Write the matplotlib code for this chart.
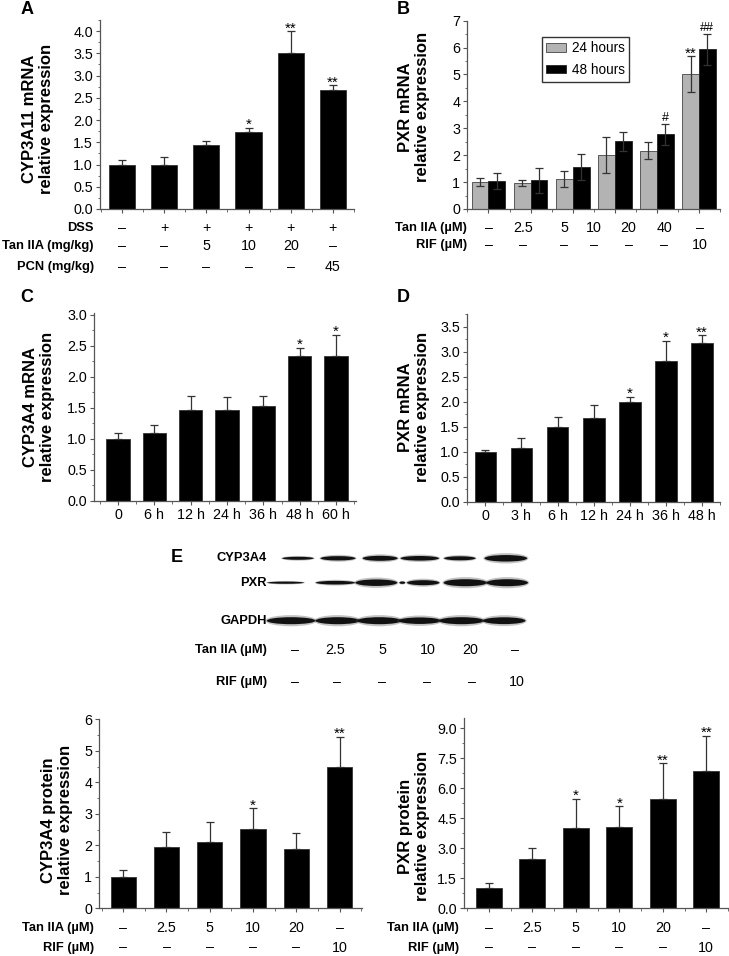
import numpy as np
import matplotlib
matplotlib.use('Agg')
import matplotlib.pyplot as plt
from matplotlib.patches import Ellipse
from matplotlib.ticker import MultipleLocator, AutoMinorLocator, FormatStrFormatter
import matplotlib.transforms as mtrans

plt.rcParams['font.family'] = ['Liberation Sans', 'DejaVu Sans']

W, H = 729, 956

# ---- data ----
# A: CYP3A11 mRNA in mice
a_vals = [1.0, 1.0, 1.43, 1.73, 3.5, 2.68]
a_err = [0.11, 0.17, 0.11, 0.10, 0.50, 0.11]
a_sig = ['', '', '', '*', '**', '**']
a_rows = ['DSS', 'Tan IIA (mg/kg)', 'PCN (mg/kg)']
a_cols = [['–', '+', '+', '+', '+', '+'],
          ['–', '–', '5', '10', '20', '–'],
          ['–', '–', '–', '–', '–', '45']]

# B: PXR mRNA, 24 h vs 48 h
b_24 = [1.01, 0.96, 1.12, 2.01, 2.17, 5.01]
b_24_err = [0.14, 0.11, 0.29, 0.67, 0.31, 0.67]
b_48 = [1.04, 1.07, 1.56, 2.52, 2.77, 5.93]
b_48_err = [0.28, 0.47, 0.50, 0.36, 0.40, 0.57]
b_sig24 = ['', '', '', '', '', '**']
b_sig48 = ['', '', '', '', '#', '##']
b_rows = ['Tan IIA (µM)', 'RIF (µM)']
b_cols = [['–', '2.5', '5', '10', '20', '40', '–'],
          ['–', '–', '–', '–', '–', '–', '10']]
b_colpos = [0, 0.83, 1.8, 2.51, 3.33, 4.17, 5.02]

# C: CYP3A4 mRNA time course
c_labels = ['0', '6 h', '12 h', '24 h', '36 h', '48 h', '60 h']
c_vals = [1.0, 1.09, 1.47, 1.47, 1.53, 2.33, 2.34]
c_err = [0.09, 0.14, 0.22, 0.20, 0.16, 0.14, 0.34]
c_sig = ['', '', '', '', '', '*', '*']

# D: PXR mRNA time course
d_labels = ['0', '3 h', '6 h', '12 h', '24 h', '36 h', '48 h']
d_vals = [1.0, 1.07, 1.49, 1.68, 2.0, 2.81, 3.18]
d_err = [0.04, 0.20, 0.20, 0.25, 0.10, 0.41, 0.15]
d_sig = ['', '', '', '', '*', '*', '**']

# E: western blot bands (lane position, width in lanes, thickness px)
cyp_pos = [0.14, 1.08, 2.07, 3.0, 3.94, 5.02]
cyp_w = [0.74, 0.82, 0.82, 0.9, 0.74, 1.0]
cyp_h = [3.0, 4.3, 5.0, 4.6, 4.0, 6.5]
pxr_pos = [-0.15, 1.02, 1.98, 2.59, 3.08, 4.07, 5.05]
pxr_w = [0.86, 0.92, 0.98, 0.14, 0.76, 1.02, 0.98]
pxr_h = [2.2, 3.6, 6.5, 2.4, 5.0, 7.0, 7.0]
gap_pos = [-0.02, 1.07, 2.05, 3.0, 3.98, 4.98]
gap_w = [1.14, 1.04, 1.04, 1.0, 1.06, 1.0]
gap_h = [7.0, 7.0, 7.0, 6.5, 7.0, 6.8]
e_tan = ['–', '2.5', '5', '10', '20', '–']
e_tan_pos = [0.07, 1.01, 2.13, 3.19, 4.18, 5.23]
e_rif = ['–', '–', '–', '–', '–', '10']
e_rif_pos = [0.07, 1.06, 2.11, 3.17, 4.23, 5.28]

# bottom: protein quantification
p_cols = [['–', '2.5', '5', '10', '20', '–'],
          ['–', '–', '–', '–', '–', '10']]
p_rows = ['Tan IIA (µM)', 'RIF (µM)']
cp_vals = [1.0, 1.94, 2.12, 2.52, 1.88, 4.49]
cp_err = [0.22, 0.47, 0.63, 0.65, 0.52, 0.96]
cp_sig = ['', '', '', '*', '', '**']
xp_vals = [1.0, 2.47, 4.03, 4.07, 5.47, 6.83]
xp_err = [0.25, 0.53, 1.45, 1.03, 1.78, 1.79]
xp_sig = ['', '', '*', '*', '**', '**']

TICK_FS = 10.3
ROW_FS = 9.3
LAB_FS = 12
SIG_FS = 11

fig = plt.figure(figsize=(W / 100, H / 100), dpi=100)


def add_ax(l, t, r, b):
    return fig.add_axes([l / W, 1 - b / H, (r - l) / W, (b - t) / H])


def fx(x):
    return x / W


def fy(y):
    return 1 - y / H


def style(ax, ymax, major):
    ax.set_ylim(0, ymax)
    ax.spines['top'].set_visible(False)
    ax.spines['right'].set_visible(False)
    for s in ['left', 'bottom']:
        ax.spines[s].set_color('#555555')
        ax.spines[s].set_linewidth(0.9)
    ax.yaxis.set_major_locator(MultipleLocator(major))
    ax.yaxis.set_minor_locator(AutoMinorLocator(2))
    ax.xaxis.set_minor_locator(MultipleLocator(0.5))
    ax.tick_params(which='major', direction='out', length=3, width=0.8,
                   color='#555555', labelsize=TICK_FS, pad=2)
    ax.tick_params(which='minor', direction='out', length=1.8, width=0.6,
                   color='#555555')


def mark(ax, x, top, s):
    # stars sit high in the em box, hashes sit on the baseline
    off = -1 if '*' in s else 2
    ax.annotate(s, (x, top), xytext=(0, off), textcoords='offset points',
                ha='center', va='baseline', fontsize=SIG_FS if '*' in s else 9)


def bars(ax, vals, err, sig, width):
    x = np.arange(len(vals))
    ax.bar(x, vals, width=width, color='black', edgecolor='#333333',
           linewidth=0.6, zorder=2)
    ax.errorbar(x, vals, yerr=[np.zeros(len(vals)), err], fmt='none',
                ecolor='#333333', elinewidth=0.9, capsize=2.6, capthick=0.9,
                zorder=3)
    for xi, v, e, s in zip(x, vals, err, sig):
        if s:
            mark(ax, xi, v + e, s)
    ax.set_xticks(x)


def row_table(ax, rows, cols, ys, right_px, colpos=None):
    tr = mtrans.blended_transform_factory(ax.transData, fig.transFigure)
    for r, labels, y in zip(rows, cols, ys):
        fig.text(fx(right_px), fy(y), r, ha='right', va='center',
                 fontsize=ROW_FS, fontweight='bold')
        pos = colpos if colpos is not None else range(len(labels))
        for xi, lab in zip(pos, labels):
            ax.text(xi, fy(y), lab, transform=tr, ha='center', va='center',
                    fontsize=TICK_FS)


def ylabel(x, y, text):
    fig.text(fx(x), fy(y), text, rotation=90, ha='center', va='center',
             fontsize=LAB_FS, fontweight='bold', linespacing=1.1)


def letter(x, y, s):
    fig.text(fx(x), fy(y), s, ha='center', va='center', fontsize=13,
             fontweight='bold')


# ---- A ----
axA = add_ax(100, 20, 354, 209)
style(axA, 4.25, 0.5)
bars(axA, a_vals, a_err, a_sig, 0.62)
axA.set_xlim(-0.52, 5.5)
axA.set_xticklabels([])
axA.yaxis.set_major_formatter(FormatStrFormatter('%.1f'))
row_table(axA, a_rows, a_cols, [228, 246, 267], 94)
ylabel(38, 119, 'CYP3A11 mRNA\nrelative expression')
letter(27, 9, 'A')

# ---- B ----
axB = add_ax(467, 20.7, 720, 209)
style(axB, 7, 1)
xb = np.arange(len(b_24))
bw = 0.40
axB.bar(xb - bw / 2, b_24, width=bw, color='#b3b3b3', edgecolor='#444444',
        linewidth=0.6, label='24 hours', zorder=2)
axB.bar(xb + bw / 2, b_48, width=bw, color='black', edgecolor='#222222',
        linewidth=0.6, label='48 hours', zorder=2)
axB.errorbar(xb - bw / 2, b_24, yerr=b_24_err, fmt='none', ecolor='#333333',
             elinewidth=0.9, capsize=2.6, capthick=0.9, zorder=3)
axB.errorbar(xb + bw / 2, b_48, yerr=b_48_err, fmt='none', ecolor='#333333',
             elinewidth=0.9, capsize=2.6, capthick=0.9, zorder=3)
for xi, v, e, s in zip(xb, b_24, b_24_err, b_sig24):
    if s:
        mark(axB, xi - bw / 2, v + e, s)
for xi, v, e, s in zip(xb, b_48, b_48_err, b_sig48):
    if s:
        mark(axB, xi + bw / 2, v + e, s)
axB.set_xticks(xb)
axB.set_xticklabels([])
axB.set_xlim(-0.51, 5.5)
axB.legend(loc='upper left', bbox_to_anchor=(0.295, 0.915), borderaxespad=0,
           fancybox=False, edgecolor='#333333', framealpha=1,
           fontsize=9.8, handlelength=1.45, handleheight=0.6,
           borderpad=0.35, labelspacing=0.55, handletextpad=0.4)
row_table(axB, b_rows, b_cols, [228, 245], 467, colpos=b_colpos)
ylabel(414, 107, 'PXR mRNA\nrelative expression')
letter(403, 9, 'B')

# ---- C ----
axC = add_ax(94, 313, 356, 501)
style(axC, 3.03, 0.5)
bars(axC, c_vals, c_err, c_sig, 0.64)
axC.set_xlim(-0.66, 6.55)
axC.set_xticklabels(c_labels)
axC.yaxis.set_major_formatter(FormatStrFormatter('%.1f'))
ylabel(39, 407, 'CYP3A4 mRNA\nrelative expression')
letter(27, 297, 'C')

# ---- D ----
axD = add_ax(467, 314, 720, 501.7)
style(axD, 3.75, 0.5)
bars(axD, d_vals, d_err, d_sig, 0.6)
axD.set_xlim(-0.51, 6.5)
axD.set_xticklabels(d_labels)
axD.yaxis.set_major_formatter(FormatStrFormatter('%.1f'))
ylabel(414, 407, 'PXR mRNA\nrelative expression')
letter(403, 297, 'D')

# ---- E: blot ----
axE = add_ax(250, 545, 540, 635)
axE.set_xlim((250 - 292) / 42.6, (540 - 292) / 42.6)
axE.set_ylim(635, 545)
axE.axis('off')
band_rows = [(cyp_pos, cyp_w, cyp_h, 558.3),
             (pxr_pos, pxr_w, pxr_h, 582.7),
             (gap_pos, gap_w, gap_h, 620.7)]
for pos, wid, hei, yc in band_rows:
    for p, w, h in zip(pos, wid, hei):
        axE.add_patch(Ellipse((p, yc), w * 1.06, h * 1.6, facecolor='#555555',
                              edgecolor='none', alpha=0.35))
        axE.add_patch(Ellipse((p, yc), w, h, facecolor='#111111',
                              edgecolor='none'))
for lab, yc in zip(['CYP3A4', 'PXR', 'GAPDH'], [558.3, 582.7, 620.7]):
    fig.text(fx(267), fy(yc), lab, ha='right', va='center', fontsize=ROW_FS,
             fontweight='bold')
trE = mtrans.blended_transform_factory(axE.transData, fig.transFigure)
fig.text(fx(267), fy(650), 'Tan IIA (µM)', ha='right', va='center',
         fontsize=ROW_FS, fontweight='bold')
fig.text(fx(267), fy(682), 'RIF (µM)', ha='right', va='center',
         fontsize=ROW_FS, fontweight='bold')
for p, s in zip(e_tan_pos, e_tan):
    axE.text(p, fy(650), s, transform=trE, ha='center', va='center',
             fontsize=TICK_FS, clip_on=False)
for p, s in zip(e_rif_pos, e_rif):
    axE.text(p, fy(682), s, transform=trE, ha='center', va='center',
             fontsize=TICK_FS, clip_on=False)
letter(177, 558, 'E')

# ---- bottom left ----
axP1 = add_ax(99, 719.3, 362, 908.3)
style(axP1, 6, 1)
bars(axP1, cp_vals, cp_err, cp_sig, 0.58)
axP1.set_xlim(-0.56, 5.52)
axP1.set_xticklabels([])
row_table(axP1, p_rows, p_cols, [928, 947.5], 94)
ylabel(57, 820, 'CYP3A4 protein\nrelative expression')

# ---- bottom right ----
axP2 = add_ax(464, 718, 728, 908.3)
style(axP2, 9.5, 1.5)
bars(axP2, xp_vals, xp_err, xp_sig, 0.59)
axP2.set_xlim(-0.57, 5.5)
axP2.set_xticklabels([])
axP2.yaxis.set_major_formatter(FormatStrFormatter('%.1f'))
row_table(axP2, p_rows, p_cols, [928, 947.5], 459)
ylabel(414, 826, 'PXR protein\nrelative expression')

fig.savefig('out.png', dpi=100)
